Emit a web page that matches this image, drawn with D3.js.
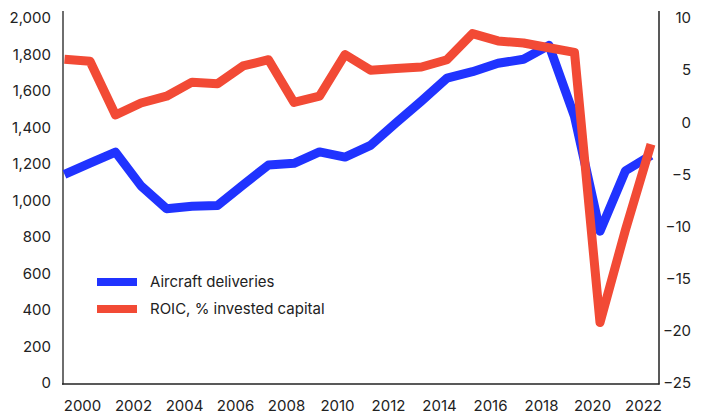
<!DOCTYPE html>
<html><head><meta charset="utf-8">
<script src="https://cdn.jsdelivr.net/npm/d3@7"></script>
<style>
html,body{margin:0;padding:0;background:#fff;}
text{font-family:Inter,"Noto Sans",sans-serif;fill:#222;}
</style></head>
<body><svg id="c" width="704" height="418"></svg>
<script>
const years = [1999,2000,2001,2002,2003,2004,2005,2006,2007,2008,2009,2010,2011,2012,2013,2014,2015,2016,2017,2018,2019,2020,2021,2022];
const deliveries = [1143,1205,1265,1080,955,968,972,1085,1195,1204,1266,1238,1302,1425,1545,1670,1706,1752,1774,1850,1460,832,1163,1247];
const roic = [6.05,5.85,0.7,1.85,2.5,3.85,3.7,5.4,6.0,1.9,2.5,6.5,5.0,5.15,5.3,6.0,8.5,7.8,7.6,7.15,6.7,-19.2,-10.3,-2.1];
const leftTicks = [0,200,400,600,800,1000,1200,1400,1600,1800,2000];
const rightTicks = [-25,-20,-15,-10,-5,0,5,10];
const xTicks = [2000,2002,2004,2006,2008,2010,2012,2014,2016,2018,2020,2022];
const seriesNames = ["Aircraft deliveries","ROIC, % invested capital"];
const colors = ["#2033ff","#f24a35"];

const svg = d3.select("#c");
const x = d3.scaleLinear().domain([1999,2022]).range([64.5,651]);
const yL = d3.scaleLinear().domain([0,2000]).range([383,18]);
const yR = d3.scaleLinear().domain([-25,10]).range([383,18]);

// left axis
const gL = svg.append("g").attr("transform","translate(51,0)")
  .call(d3.axisLeft(yL).tickValues(leftTicks).tickFormat(d3.format(",")).tickSize(0).tickPadding(0));
gL.select(".domain").remove();
gL.selectAll("text").attr("font-size",15).style("font-family","Inter,'Noto Sans',sans-serif").attr("fill","#222");

// right axis
const gR = svg.append("g").attr("transform","translate(691,0)")
  .call(d3.axisLeft(yR).tickValues(rightTicks).tickSize(0).tickPadding(0));
gR.select(".domain").remove();
gR.selectAll("text").attr("font-size",15).style("font-family","Inter,'Noto Sans',sans-serif").attr("fill","#222");

// bottom axis
const gB = svg.append("g").attr("transform","translate(-8,400)")
  .call(d3.axisBottom(x).tickValues(xTicks).tickFormat(d3.format("d")).tickSize(0).tickPadding(0));
gB.select(".domain").remove();
gB.selectAll("text").attr("font-size",15).style("font-family","Inter,'Noto Sans',sans-serif").attr("fill","#222");

// axis lines
svg.append("line").attr("x1",63).attr("x2",63).attr("y1",11).attr("y2",384.5).attr("stroke","#6e6e6e").attr("stroke-width",2);
svg.append("line").attr("x1",659).attr("x2",659).attr("y1",11).attr("y2",384.5).attr("stroke","#222").attr("stroke-width",1.5);
svg.append("line").attr("x1",62).attr("x2",659.5).attr("y1",384).attr("y2",384).attr("stroke","#222").attr("stroke-width",1.5);

// lines
const lineL = d3.line().x((d,i)=>x(years[i])).y(d=>yL(d));
const lineR = d3.line().x((d,i)=>x(years[i])).y(d=>yR(d));
svg.append("path").datum(deliveries).attr("d",lineL).attr("fill","none")
  .attr("stroke",colors[0]).attr("stroke-width",9).attr("stroke-linejoin","round");
svg.append("path").datum(roic).attr("d",lineR).attr("fill","none")
  .attr("stroke",colors[1]).attr("stroke-width",9).attr("stroke-linejoin","round");

// legend
const lg = svg.append("g");
seriesNames.forEach((n,i)=>{
  const yy = 282 + i*27;
  lg.append("rect").attr("x",97).attr("y",yy-4).attr("width",40).attr("height",8).attr("fill",colors[i]);
  lg.append("text").attr("x",150).attr("y",yy).attr("dy","0.35em").attr("font-size",15).text(n);
});
</script></body></html>
